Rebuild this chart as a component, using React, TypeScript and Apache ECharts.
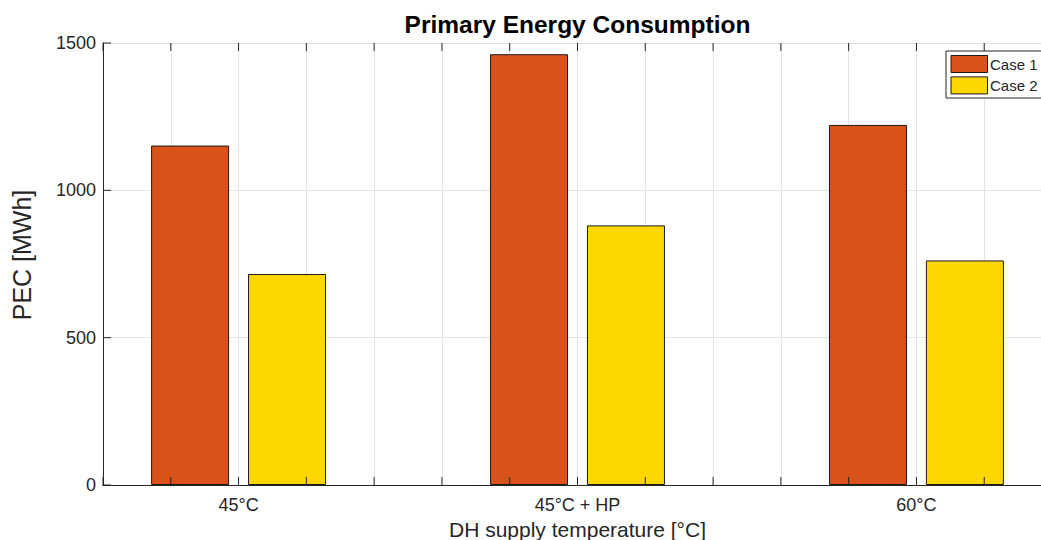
import React, { useEffect, useRef } from "react";
import * as echarts from "echarts";

const categories = ["45°C", "45°C + HP", "60°C"];
const case1 = [1152, 1462, 1222];
const case2 = [716, 881, 762];
const seriesNames = ["Case 1", "Case 2"];
const seriesColors = ["#D95319", "#FFD700"];
const yTicks = { min: 0, max: 1500, step: 500 };
const xRange = { min: 0.6, max: 3.4, step: 0.2 };

const FONT = "'Liberation Sans', Arial, Helvetica, sans-serif";
const AX = "#262626";
const GRID = "#e3e3e3";
const TICK_LEN = 8;

export default function App() {
  const ref = useRef<HTMLDivElement>(null);
  useEffect(() => {
    if (!ref.current) return;
    const chart = echarts.init(ref.current, undefined, { renderer: "svg" });
    const offset = 0.143;
    const gridLeft = 103;
    const gridRight = 8;
    const width = 1060;
    const plotCenter = (gridLeft + (width - gridRight)) / 2;
    const xLabel = (v: number) => {
      const r = Math.round(v);
      if (Math.abs(v - r) < 1e-6 && r >= 1 && r <= categories.length) return categories[r - 1];
      return "";
    };
    const baseX = {
      type: "value",
      min: xRange.min,
      max: xRange.max,
      interval: xRange.step,
    };

    // tick positions derived from the axis ranges (kind 0 = x tick, 1 = y tick)
    const tickData: number[][] = [];
    const nx = Math.round((xRange.max - xRange.min) / xRange.step);
    for (let k = 0; k <= nx; k++) tickData.push([0, xRange.min + k * xRange.step]);
    const ny = Math.round((yTicks.max - yTicks.min) / yTicks.step);
    for (let k = 0; k <= ny; k++) tickData.push([1, yTicks.min + k * yTicks.step]);

    const legendGraphics: any[] = [
      {
        type: "rect",
        shape: { x: 946, y: 51, width: 120, height: 47 },
        style: { fill: "#fff", stroke: AX, lineWidth: 1 },
        z: 100,
      },
    ];
    seriesNames.forEach((n, i) => {
      const y = 55.5 + i * 21.4;
      legendGraphics.push({
        type: "rect",
        shape: { x: 951, y, width: 36.5, height: 17 },
        style: { fill: seriesColors[i], stroke: "#1a1a1a", lineWidth: 1 },
        z: 101,
      });
      legendGraphics.push({
        type: "text",
        x: 990,
        y: y + 8.7,
        style: {
          text: n,
          textAlign: "left",
          textVerticalAlign: "middle",
          fontFamily: FONT,
          fontSize: 15,
          fill: AX,
        },
        z: 101,
      });
    });

    chart.setOption({
      animation: false,
      textStyle: { fontFamily: FONT },
      graphic: [
        {
          type: "text",
          x: plotCenter,
          y: 24,
          style: {
            text: "Primary Energy Consumption",
            textAlign: "center",
            textVerticalAlign: "middle",
            fontFamily: FONT,
            fontWeight: "bold",
            fontSize: 24.5,
            fill: "#000",
          },
        },
        ...legendGraphics,
      ],
      grid: { left: gridLeft, right: gridRight, top: 43, bottom: 55, outerBoundsMode: "none", containLabel: false },
      xAxis: [
        {
          ...baseX,
          position: "bottom",
          name: "DH supply temperature [°C]",
          nameLocation: "middle",
          nameGap: 23,
          nameTextStyle: { fontFamily: FONT, fontSize: 21, color: AX },
          axisLine: { show: true, lineStyle: { color: AX, width: 1 } },
          axisTick: { show: false },
          axisLabel: {
            show: true,
            formatter: xLabel,
            fontFamily: FONT,
            fontSize: 18,
            color: AX,
            margin: 11,
            showMinLabel: true,
            showMaxLabel: true,
          },
          splitLine: { show: true, lineStyle: { color: GRID, width: 1 } },
        },
        {
          ...baseX,
          position: "top",
          axisLine: { show: true, lineStyle: { color: AX, width: 1 } },
          axisTick: { show: false },
          axisLabel: { show: false },
          splitLine: { show: false },
        },
      ],
      yAxis: [
        {
          type: "value",
          min: yTicks.min,
          max: yTicks.max,
          interval: yTicks.step,
          position: "left",
          name: "PEC [MWh]",
          nameLocation: "middle",
          nameGap: 69,
          nameTextStyle: { fontFamily: FONT, fontSize: 25, color: AX, padding: [0, 0, 0, 18] },
          axisLine: { show: true, lineStyle: { color: AX, width: 1 } },
          axisTick: { show: false },
          axisLabel: {
            fontFamily: FONT,
            fontSize: 18,
            color: AX,
            margin: 7,
            formatter: (v: number) => String(v),
          },
          splitLine: { show: true, lineStyle: { color: GRID, width: 1 } },
        },
        {
          type: "value",
          min: yTicks.min,
          max: yTicks.max,
          interval: yTicks.step,
          position: "right",
          axisLine: { show: true, lineStyle: { color: AX, width: 1 } },
          axisTick: { show: false },
          axisLabel: { show: false },
          splitLine: { show: false },
        },
      ],
      series: [
        {
          name: seriesNames[0],
          type: "bar",
          barWidth: 78,
          barGap: "-100%",
          itemStyle: { color: seriesColors[0], borderColor: "#1a1a1a", borderWidth: 1 },
          data: case1.map((v, i) => [i + 1 - offset, v]),
        },
        {
          name: seriesNames[1],
          type: "bar",
          barWidth: 78,
          barGap: "-100%",
          itemStyle: { color: seriesColors[1], borderColor: "#1a1a1a", borderWidth: 1 },
          data: case2.map((v, i) => [i + 1 + offset, v]),
        },
        {
          name: "ticks",
          type: "custom",
          silent: true,
          clip: false,
          z: 5,
          xAxisIndex: 0,
          yAxisIndex: 0,
          data: tickData,
          renderItem: (_params: any, api: any) => {
            const kind = api.value(0);
            const v = api.value(1);
            const st = { stroke: AX, lineWidth: 1 };
            if (kind === 0) {
              const b = api.coord([v, yTicks.min]);
              const t = api.coord([v, yTicks.max]);
              return {
                type: "group",
                children: [
                  { type: "line", shape: { x1: b[0], y1: b[1], x2: b[0], y2: b[1] - TICK_LEN }, style: st },
                  { type: "line", shape: { x1: t[0], y1: t[1], x2: t[0], y2: t[1] + TICK_LEN }, style: st },
                ],
              };
            }
            const l = api.coord([xRange.min, v]);
            const r = api.coord([xRange.max, v]);
            return {
              type: "group",
              children: [
                { type: "line", shape: { x1: l[0], y1: l[1], x2: l[0] + TICK_LEN, y2: l[1] }, style: st },
                { type: "line", shape: { x1: r[0], y1: r[1], x2: r[0] - TICK_LEN, y2: r[1] }, style: st },
              ],
            };
          },
        },
      ],
    });
    return () => chart.dispose();
  }, []);
  return (
    <div
      ref={ref}
      style={{ position: "fixed", left: 0, top: 0, width: 1060, height: 540, background: "#fff" }}
    />
  );
}
